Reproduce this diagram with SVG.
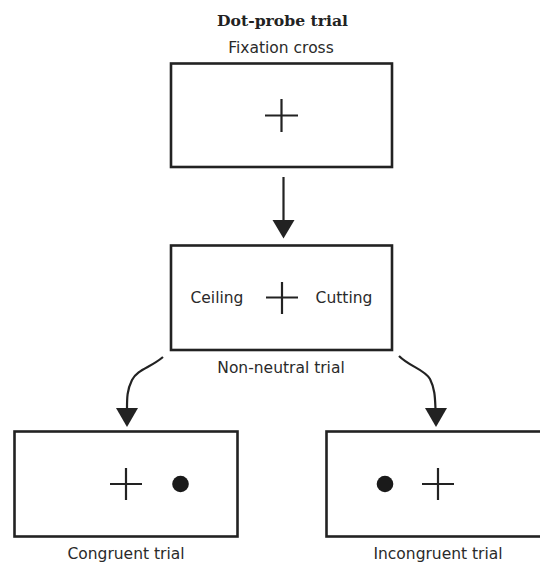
<svg xmlns="http://www.w3.org/2000/svg" width="540" height="563" viewBox="0 0 540 563">
  <style>
    .frame { fill: #ffffff; stroke: #222222; stroke-width: 2.6; }
    .cross { stroke: #222222; stroke-width: 2.2; fill: none; }
    .dot { fill: #1a1a1a; }
    .label { font-family: "DejaVu Sans", sans-serif; font-size: 15.5px; fill: #2a2a2a; text-anchor: middle; }
    .title { font-family: "DejaVu Serif", "Liberation Serif", serif; font-size: 15px; font-weight: bold; fill: #222222; text-anchor: middle; }
    .link { stroke: #222222; stroke-width: 2.2; fill: none; }
    .head { fill: #222222; }
  </style>

  <rect width="540" height="563" fill="#ffffff"/>

  <text class="title" x="282.5" y="26" textLength="131" lengthAdjust="spacingAndGlyphs">Dot-probe trial</text>

  <g id="fixation">
    <text class="label" x="281" y="53">Fixation cross</text>
    <rect class="frame" x="171" y="63.5" width="221" height="103.5"/>
    <path class="cross" d="M265 115.5H298M281.5 99V132"/>
  </g>

  <g id="non-neutral">
    <rect class="frame" x="171" y="245.5" width="221" height="104.5"/>
    <text class="label" x="217" y="303">Ceiling</text>
    <path class="cross" d="M266 297.5H298M282 282V314"/>
    <text class="label" x="344" y="303">Cutting</text>
    <text class="label" x="281" y="373">Non-neutral trial</text>
  </g>

  <g id="congruent">
    <rect class="frame" x="14.5" y="431.5" width="223" height="105"/>
    <path class="cross" d="M110 484H142M126 468V500"/>
    <circle class="dot" cx="180.5" cy="484" r="8.3"/>
    <text class="label" x="126" y="559">Congruent trial</text>
  </g>

  <g id="incongruent">
    <rect class="frame" x="326.5" y="431.5" width="230" height="105"/>
    <circle class="dot" cx="385" cy="484" r="8.3"/>
    <path class="cross" d="M422 484H454M438 468V500"/>
    <text class="label" x="438" y="559">Incongruent trial</text>
  </g>

  <g id="connectors">
    <path class="link" d="M283.5 177V221"/>
    <polygon class="head" points="272.5,220 294.5,220 283.5,238.5"/>

    <path class="link" d="M163 357C150 368 138 369 132 380C127 390 127 398 127 409"/>
    <polygon class="head" points="116,408 138,408 127,427"/>

    <path class="link" d="M399 356C410 367 424 369 430 379C435 389 435 398 435.5 409"/>
    <polygon class="head" points="425,408 447,408 436,427"/>
  </g>
</svg>
